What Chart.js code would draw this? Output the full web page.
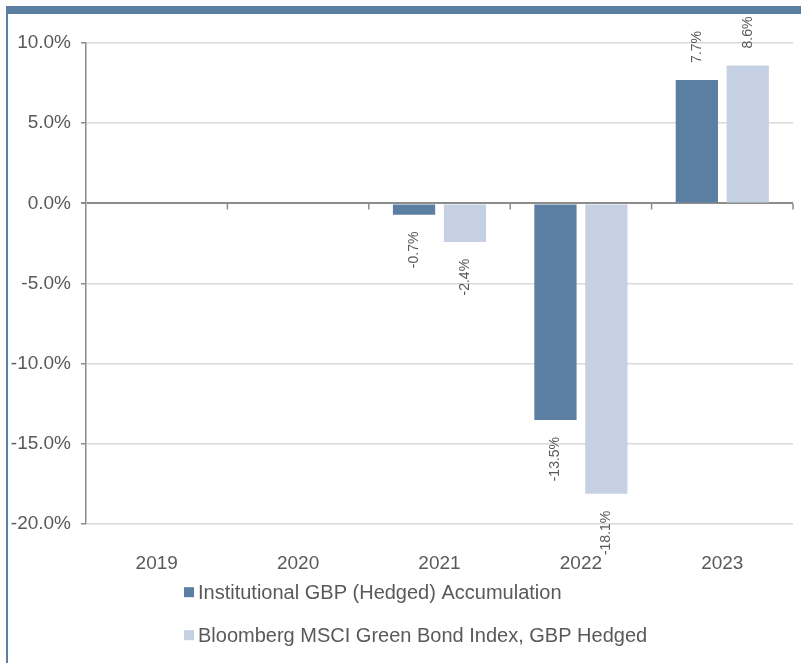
<!DOCTYPE html>
<html>
<head>
<meta charset="utf-8">
<script src="https://cdn.jsdelivr.net/npm/chart.js@4"></script>
<style>
  html, body { margin: 0; padding: 0; background: #fff; }
  #wrap { position: relative; width: 801px; height: 663px; }
  #topbar { position: absolute; left: 6px; top: 6px; right: 0; height: 8px; background: #5b7fa2; }
  #leftbar { position: absolute; left: 6px; top: 6px; bottom: 0; width: 2px; background: #5b7fa2; }
  canvas { position: absolute; left: 0; top: 0; }
</style>
</head>
<body>
<div id="wrap">
  <canvas id="barChart" width="801" height="663"></canvas>
  <div id="topbar"></div>
  <div id="leftbar"></div>
</div>
<script>
var categories = ["2019", "2020", "2021", "2022", "2023"];
var fundValues = [null, null, -0.7, -13.5, 7.7];
var indexValues = [null, null, -2.4, -18.1, 8.6];
var seriesNames = ["Institutional GBP (Hedged) Accumulation", "Bloomberg MSCI Green Bond Index, GBP Hedged"];
var yTickValues = [-20, -15, -10, -5, 0, 5, 10];

var FONT = '"Liberation Sans", Arial, sans-serif';
var TEXT = '#595959';
var AXIS = '#8c8c8c';
var GRID = '#d9d9d9';

// value labels, rotated, outside the bar ends
var barLabels = {
  id: 'barLabels',
  afterDatasetsDraw: function(chart) {
    var ctx = chart.ctx;
    ctx.save();
    ctx.font = '14px ' + FONT;
    ctx.fillStyle = TEXT;
    ctx.textBaseline = 'middle';
    chart.data.datasets.forEach(function(ds, di) {
      chart.getDatasetMeta(di).data.forEach(function(bar, i) {
        var v = ds.data[i];
        if (v === null) return;
        var pos = v >= 0;
        ctx.save();
        ctx.translate(bar.x, pos ? bar.y - 17 : bar.y + 17);
        ctx.rotate(-Math.PI / 2);
        ctx.textAlign = pos ? 'left' : 'right';
        ctx.fillText(v.toFixed(1) + '%', 0, 0);
        ctx.restore();
      });
    });
    ctx.restore();
  }
};

// small tick marks hanging from the zero line between categories
var zeroTicks = {
  id: 'zeroTicks',
  afterDatasetsDraw: function(chart) {
    var ctx = chart.ctx, x = chart.scales.x, y = chart.scales.y;
    var y0 = y.getPixelForValue(0);
    ctx.save();
    ctx.strokeStyle = AXIS;
    ctx.lineWidth = 1.5;
    ctx.beginPath();
    for (var i = 1; i <= categories.length; i++) {
      var px = i < categories.length ? (x.getPixelForValue(i - 1) + x.getPixelForValue(i)) / 2 : chart.chartArea.right;
      ctx.moveTo(px, y0);
      ctx.lineTo(px, y0 + 6);
    }
    ctx.stroke();
    ctx.restore();
  }
};

// stacked legend below the axis
var sideLegend = {
  id: 'sideLegend',
  afterDraw: function(chart) {
    var ctx = chart.ctx;
    ctx.save();
    ctx.font = '20px ' + FONT;
    ctx.textBaseline = 'middle';
    ctx.textAlign = 'left';
    chart.data.datasets.forEach(function(ds, i) {
      var cy = chart.chartArea.bottom + 68 + i * 43;
      ctx.fillStyle = ds.backgroundColor;
      ctx.fillRect(184, cy - 5, 10, 10);
      ctx.fillStyle = TEXT;
      ctx.fillText(ds.label, 198, cy + 1);
    });
    ctx.restore();
  }
};

var chartJs = new Chart(document.getElementById("barChart"), {
  type: 'bar',
  data: {
    labels: categories,
    datasets: [
      { label: seriesNames[0], data: fundValues, backgroundColor: '#5b7fa2' },
      { label: seriesNames[1], data: indexValues, backgroundColor: '#c5d1e3' }
    ]
  },
  options: {
    responsive: false,
    animation: false,
    devicePixelRatio: 1,
    categoryPercentage: 0.72,
    barPercentage: 0.83,
    layout: { padding: { left: 0, right: 8, top: 43, bottom: 60 } },
    plugins: {
      legend: { display: false },
      tooltip: { enabled: false }
    },
    scales: {
      x: {
        grid: { display: false, drawTicks: false },
        border: { display: false },
        ticks: { color: TEXT, font: { size: 19, family: FONT }, padding: 28 }
      },
      y: {
        min: -20,
        max: 10,
        afterBuildTicks: function(scale) {
          scale.ticks = yTickValues.map(function(v) { return { value: v }; });
        },
        afterFit: function(scale) { scale.width = 86; },
        grid: {
          color: function(c) { return c.tick && c.tick.value === 0 ? AXIS : GRID; },
          lineWidth: function(c) { return c.tick && c.tick.value === 0 ? 2 : 1.5; },
          tickColor: AXIS,
          tickLength: 5
        },
        border: { display: true, color: AXIS, width: 1.5 },
        ticks: {
          color: TEXT,
          font: { size: 19, family: FONT },
          padding: 10,
          callback: function(v) { return v.toFixed(1) + '%'; }
        }
      }
    }
  },
  plugins: [barLabels, zeroTicks, sideLegend]
});
</script>
</body>
</html>
